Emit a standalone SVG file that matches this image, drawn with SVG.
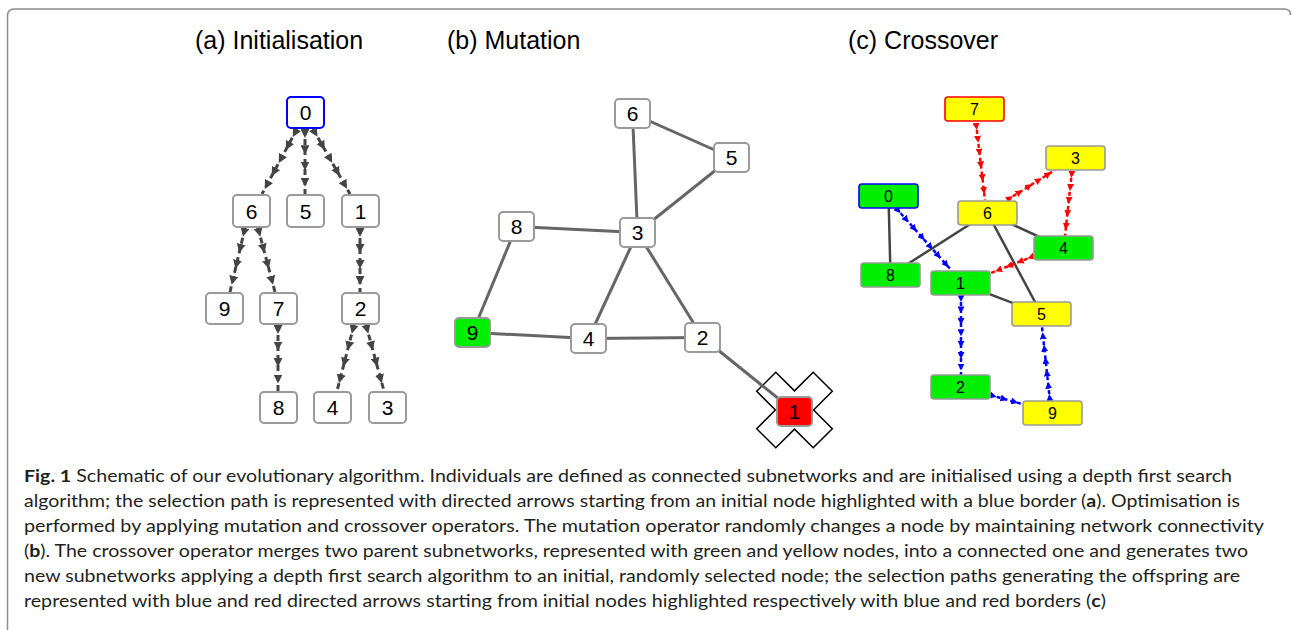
<svg xmlns="http://www.w3.org/2000/svg" width="1292" height="630" viewBox="0 0 1292 630">
<style>
.bg{fill:#fff}
.frame{fill:none;stroke:#8c8c8c;stroke-width:1.5}
.title{font-family:"Liberation Sans",Arial,sans-serif;font-size:25px;fill:#000}
.na rect{fill:#fff;stroke:#9a9a9a;stroke-width:2}
.na text{font-family:"Liberation Sans",Arial,sans-serif;font-size:21px;fill:#000;text-anchor:middle}
.nc rect{stroke:#999;stroke-width:1.6}
.nc text{font-family:"Liberation Sans",Arial,sans-serif;font-size:16px;fill:#000;text-anchor:middle}
.ea{fill:none;stroke:#444;stroke-width:3;stroke-dasharray:6 4;marker-start:url(#mg);marker-mid:url(#mg)}
.eb{fill:none;stroke:#666;stroke-width:3}
.ec{fill:none;stroke:#444;stroke-width:2.5}
.er{fill:none;stroke:#f00;stroke-width:2.5;stroke-dasharray:4 3;marker-start:url(#mr);marker-mid:url(#mr)}
.eu{fill:none;stroke:#00f;stroke-width:2.5;stroke-dasharray:4 3;marker-start:url(#mu);marker-mid:url(#mu)}
.cap{font-family:Lato,"Open Sans",sans-serif;font-size:17.5px;fill:#231f20}
.cap .b{font-weight:bold}
</style>
<defs>
<marker id="mg" markerUnits="userSpaceOnUse" markerWidth="9" markerHeight="9" refX="0" refY="4.5" orient="auto" viewBox="0 0 9 9"><path d="M0,0 L9,4.5 L0,9 z" fill="#444"/></marker>
<marker id="mr" markerUnits="userSpaceOnUse" markerWidth="7" markerHeight="7" refX="0" refY="3.5" orient="auto" viewBox="0 0 7 7"><path d="M0,0 L7,3.5 L0,7 z" fill="#f00"/></marker>
<marker id="mu" markerUnits="userSpaceOnUse" markerWidth="7" markerHeight="7" refX="0" refY="3.5" orient="auto" viewBox="0 0 7 7"><path d="M0,0 L7,3.5 L0,7 z" fill="#00f"/></marker>
</defs>
<rect class="bg" x="0" y="0" width="1292" height="630"/>
<path class="frame" d="M7.5,630 V16 Q7.5,9 14.5,9 H1284 Q1290.5,9 1290.5,15"/>

<g id="titles">
<text class="title" x="195" y="49">(a) Initialisation</text>
<text class="title" x="447" y="49">(b) Mutation</text>
<text class="title" x="848" y="49">(c) Crossover</text>
</g>

<g id="cross-mark">
<polygon points="794.5,390.9 813.2,372.2 832.3,391.3 813.6,410 832.3,428.7 813.2,447.8 794.5,429.1 775.8,447.8 756.7,428.7 775.4,410 756.7,391.3 775.8,372.2" fill="#fff" stroke="#000" stroke-width="1.5"/>
</g>

<g id="connectors">
<!-- (a) -->
<path class="ea" d="M297,129 L290,142 L283,155 L276,168 L269,181 L262,194"/>
<path class="ea" d="M305,129 L305,145.25 L305,161.5 L305,177.75 L305,194"/>
<path class="ea" d="M313,129 L320.4,142 L327.8,155 L335.2,168 L342.6,181 L350,194"/>
<path class="ea" d="M245,228 L241.25,244 L237.5,260 L233.75,276 L230,292"/>
<path class="ea" d="M258,228 L262.25,244 L266.5,260 L270.75,276 L275,292"/>
<path class="ea" d="M360,228 L360,244 L360,260 L360,276 L360,292"/>
<path class="ea" d="M278,325 L278,341.5 L278,358 L278,374.5 L278,391"/>
<path class="ea" d="M354,325 L349.75,341.5 L345.5,358 L341.25,374.5 L337,391"/>
<path class="ea" d="M366,325 L370.5,341.5 L375,358 L379.5,374.5 L384,391"/>
<!-- (b) -->
<line class="eb" x1="632.5" y1="113.5" x2="637.5" y2="232.5"/>
<line class="eb" x1="632.5" y1="113.5" x2="731.5" y2="157.5"/>
<line class="eb" x1="731.5" y1="157.5" x2="637.5" y2="232.5"/>
<line class="eb" x1="516.5" y1="226.5" x2="637.5" y2="232.5"/>
<line class="eb" x1="516.5" y1="226.5" x2="472.5" y2="332.5"/>
<line class="eb" x1="472.5" y1="332.5" x2="588.5" y2="338.5"/>
<line class="eb" x1="588.5" y1="338.5" x2="637.5" y2="232.5"/>
<line class="eb" x1="588.5" y1="338.5" x2="702.5" y2="337.5"/>
<line class="eb" x1="637.5" y1="232.5" x2="702.5" y2="337.5"/>
<line class="eb" x1="702.5" y1="337.5" x2="794.5" y2="411.5"/>
<!-- (c) solid -->
<line class="ec" x1="888.5" y1="196" x2="890.5" y2="275"/>
<line class="ec" x1="987.5" y1="213" x2="890.5" y2="275"/>
<line class="ec" x1="987.5" y1="213" x2="1063.5" y2="248"/>
<line class="ec" x1="987.5" y1="213" x2="1041.5" y2="314"/>
<line class="ec" x1="960.5" y1="283" x2="1041.5" y2="314"/>
<!-- (c) red -->
<path class="er" d="M976,123 L977.5,135.8 L979,148.7 L980.5,161.5 L982,174.3 L983.5,187.2 L985,200"/>
<path class="er" d="M1007,200 L1016.6,194 L1026.2,188 L1035.8,182 L1045.4,176 L1055,170"/>
<path class="er" d="M1072,171 L1070.6,184 L1069.2,197 L1067.8,210 L1066.4,223 L1065,236"/>
<path class="er" d="M1034,256 L1023.25,260.25 L1012.5,264.5 L1001.75,268.75 L991,273"/>
<!-- (c) blue -->
<path class="eu" d="M896,208 L904,217 L912,226 L920,235 L928,244 L936,253 L944,262 L952,271"/>
<path class="eu" d="M961,295 L961,306.4 L961,317.9 L961,329.3 L961,340.7 L961,352.1 L961,363.6 L961,375"/>
<path class="eu" d="M990,395 L1000.7,398 L1011.3,401 L1022,404"/>
<path class="eu" d="M1050,401 L1048.7,388.7 L1047.3,376.3 L1046,364 L1044.7,351.7 L1043.3,339.3 L1042,327"/>
</g>

<!-- (a) nodes -->
<g id="a0" class="na"><rect x="287" y="97" width="37" height="31" rx="4" style="stroke:#00f"/><text x="305.5" y="120">0</text></g>
<g id="a6" class="na"><rect x="233" y="195" width="37" height="32" rx="4"/><text x="251.5" y="218.5">6</text></g>
<g id="a5" class="na"><rect x="287" y="195" width="37" height="32" rx="4"/><text x="305.5" y="218.5">5</text></g>
<g id="a1" class="na"><rect x="342" y="195" width="37" height="32" rx="4"/><text x="360.5" y="218.5">1</text></g>
<g id="a9" class="na"><rect x="206" y="293" width="37" height="31" rx="4"/><text x="224.5" y="316">9</text></g>
<g id="a7" class="na"><rect x="260" y="293" width="37" height="31" rx="4"/><text x="278.5" y="316">7</text></g>
<g id="a2" class="na"><rect x="342" y="293" width="37" height="31" rx="4"/><text x="360.5" y="316">2</text></g>
<g id="a8" class="na"><rect x="260" y="392" width="37" height="31" rx="4"/><text x="278.5" y="415">8</text></g>
<g id="a4" class="na"><rect x="314" y="392" width="37" height="31" rx="4"/><text x="332.5" y="415">4</text></g>
<g id="a3" class="na"><rect x="369" y="392" width="37" height="31" rx="4"/><text x="387.5" y="415">3</text></g>

<!-- (b) nodes -->
<g id="b6" class="na"><rect x="615" y="99" width="35" height="29" rx="4"/><text x="632.5" y="121">6</text></g>
<g id="b5" class="na"><rect x="714" y="143" width="35" height="29" rx="4"/><text x="731.5" y="165">5</text></g>
<g id="b8" class="na"><rect x="499" y="212" width="35" height="29" rx="4"/><text x="516.5" y="234">8</text></g>
<g id="b3" class="na"><rect x="620" y="218" width="35" height="29" rx="4"/><text x="637.5" y="240">3</text></g>
<g id="b9" class="na"><rect x="455" y="318" width="35" height="29" rx="4" style="fill:#00ee00"/><text x="472.5" y="340">9</text></g>
<g id="b4" class="na"><rect x="571" y="324" width="35" height="29" rx="4"/><text x="588.5" y="346">4</text></g>
<g id="b2" class="na"><rect x="685" y="323" width="35" height="29" rx="4"/><text x="702.5" y="345">2</text></g>
<g id="b1" class="na"><rect x="777" y="397" width="35" height="29" rx="4" style="fill:#f00"/><text x="794.5" y="419">1</text></g>

<!-- (c) nodes -->
<g id="c7" class="nc"><rect x="945" y="97" width="59" height="24" rx="3" fill="#ff0" style="stroke:#f00"/><text x="974.5" y="115">7</text></g>
<g id="c3" class="nc"><rect x="1046" y="146" width="59" height="24" rx="3" fill="#ff0"/><text x="1075.5" y="164">3</text></g>
<g id="c0" class="nc"><rect x="859" y="184" width="59" height="24" rx="3" fill="#00ee00" style="stroke:#00f"/><text x="888.5" y="202">0</text></g>
<g id="c6" class="nc"><rect x="958" y="201" width="59" height="24" rx="3" fill="#ff0"/><text x="987.5" y="219">6</text></g>
<g id="c4" class="nc"><rect x="1034" y="236" width="59" height="24" rx="3" fill="#00ee00"/><text x="1063.5" y="254">4</text></g>
<g id="c8" class="nc"><rect x="861" y="263" width="59" height="24" rx="3" fill="#00ee00"/><text x="890.5" y="281">8</text></g>
<g id="c1" class="nc"><rect x="931" y="271" width="59" height="24" rx="3" fill="#00ee00"/><text x="960.5" y="289">1</text></g>
<g id="c5" class="nc"><rect x="1012" y="302" width="59" height="24" rx="3" fill="#ff0"/><text x="1041.5" y="320">5</text></g>
<g id="c2" class="nc"><rect x="931" y="375" width="59" height="24" rx="3" fill="#00ee00"/><text x="960.5" y="393">2</text></g>
<g id="c9" class="nc"><rect x="1023" y="401" width="59" height="24" rx="3" fill="#ff0"/><text x="1052.5" y="419">9</text></g>

<g id="caption" class="cap">
<text x="24" y="482" textLength="1208" lengthAdjust="spacingAndGlyphs"><tspan class="b">Fig. 1</tspan> Schematic of our evolutionary algorithm. Individuals are defined as connected subnetworks and are initialised using a depth first search</text>
<text x="24" y="507" textLength="1216" lengthAdjust="spacingAndGlyphs">algorithm; the selection path is represented with directed arrows starting from an initial node highlighted with a blue border (<tspan class="b">a</tspan>). Optimisation is</text>
<text x="24" y="532" textLength="1240" lengthAdjust="spacingAndGlyphs">performed by applying mutation and crossover operators. The mutation operator randomly changes a node by maintaining network connectivity</text>
<text x="24" y="557" textLength="1224" lengthAdjust="spacingAndGlyphs">(<tspan class="b">b</tspan>). The crossover operator merges two parent subnetworks, represented with green and yellow nodes, into a connected one and generates two</text>
<text x="24" y="582" textLength="1216" lengthAdjust="spacingAndGlyphs">new subnetworks applying a depth first search algorithm to an initial, randomly selected node; the selection paths generating the offspring are</text>
<text x="24" y="607" textLength="1082" lengthAdjust="spacingAndGlyphs">represented with blue and red directed arrows starting from initial nodes highlighted respectively with blue and red borders (<tspan class="b">c</tspan>)</text>
</g>
</svg>
